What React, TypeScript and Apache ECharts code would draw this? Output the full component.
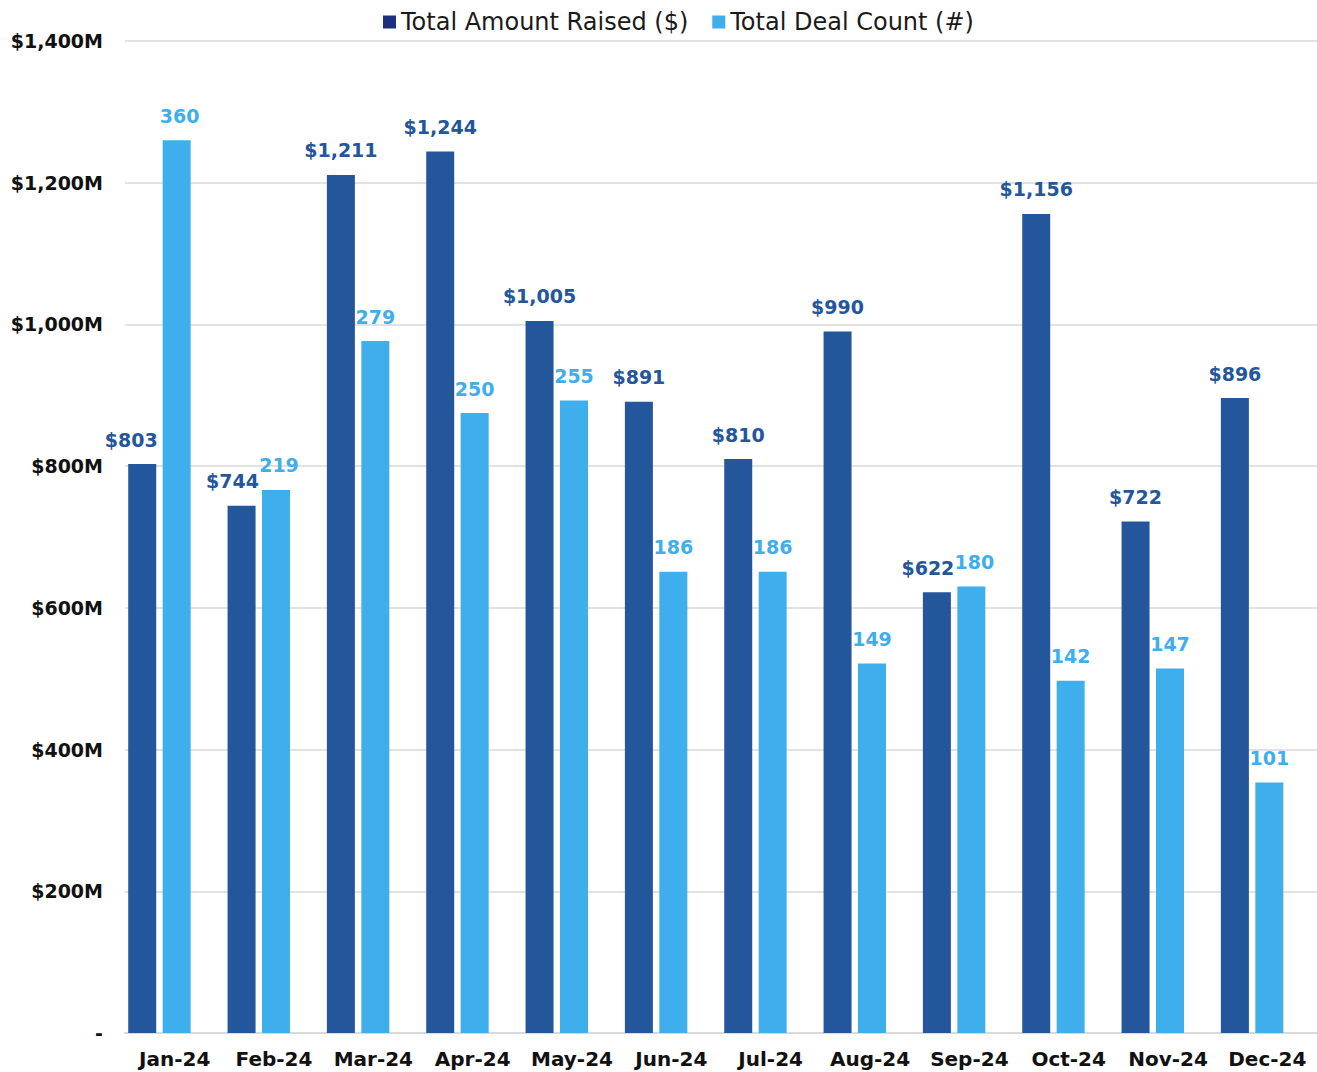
import React, { useEffect, useRef } from "react";
import * as echarts from "echarts";

const months = ["Jan-24", "Feb-24", "Mar-24", "Apr-24", "May-24", "Jun-24", "Jul-24", "Aug-24", "Sep-24", "Oct-24", "Nov-24", "Dec-24"];
const amountRaised = [803, 744, 1211, 1244, 1005, 891, 810, 990, 622, 1156, 722, 896];
const dealCount = [360, 219, 279, 250, 255, 186, 186, 149, 180, 142, 147, 101];
const amountLabelShift = [-11, -9, 0, 0, 0, 0, 0, 0, -9, 0, 0, 0];
const countLabelShift = [3, 3, 0, 0, 0, 0, 0, 0, 3, 0, 0, 0];

const DARK = "#24569B";
const LIGHT = "#3FAEEC";
const FONT = "DejaVu Sans";

const fmtThousands = (v: number) => v.toLocaleString("en-US");

export default function App() {
  const ref = useRef<HTMLDivElement>(null);
  useEffect(() => {
    if (!ref.current) return;
    const chart = echarts.init(ref.current, undefined, { renderer: "svg" });
    chart.setOption({
      animation: false,
      textStyle: { fontFamily: FONT },
      legend: {
        top: 5,
        left: 378,
        itemWidth: 13,
        itemHeight: 13,
        itemGap: 24,
        icon: "rect",
        textStyle: { fontSize: 24, color: "#1a1a1a", fontFamily: FONT },
        data: [
          { name: "Total Amount Raised ($)", itemStyle: { color: "#1B2F7E" } },
          { name: "Total Deal Count (#)", itemStyle: { color: LIGHT } },
        ],
      },
      grid: { left: 125, right: 0, top: 41, bottom: 39, containLabel: false },
      xAxis: {
        type: "category",
        data: months,
        axisLine: { lineStyle: { color: "#d9d9d9", width: 2 } },
        axisTick: { show: false },
        axisLabel: { interval: 0, fontSize: 20, fontWeight: "bold", color: "#111", margin: 16, fontFamily: FONT },
      },
      yAxis: [
        {
          type: "value",
          min: 0,
          max: 1400,
          interval: 200,
          axisLine: { show: false },
          axisTick: { show: false },
          splitLine: { lineStyle: { color: "#d9d9d9", width: 1.5 } },
          axisLabel: {
            fontSize: 19,
            fontWeight: "bold",
            color: "#111",
            margin: 22,
            fontFamily: FONT,
            formatter: (v: number) => (v === 0 ? "-" : "$" + fmtThousands(v) + "M"),
          },
        },
        {
          type: "value",
          min: 0,
          max: 400,
          interval: 50,
          show: false,
          splitLine: { show: false },
        },
      ],
      series: [
        {
          name: "Total Amount Raised ($)",
          type: "bar",
          yAxisIndex: 0,
          barWidth: 28,
          barGap: "23%",
          itemStyle: { color: DARK },
          data: amountRaised.map((v, i) => ({
            value: v,
            label: { offset: [amountLabelShift[i], 0] },
          })),
          label: {
            show: true,
            position: "top",
            distance: 15,
            color: DARK,
            fontSize: 19,
            fontWeight: "bold",
            fontFamily: FONT,
            formatter: (p: any) => "$" + fmtThousands(p.value),
          },
        },
        {
          name: "Total Deal Count (#)",
          type: "bar",
          yAxisIndex: 1,
          barWidth: 28,
          itemStyle: { color: LIGHT },
          data: dealCount.map((v, i) => ({
            value: v,
            label: { offset: [countLabelShift[i], 0] },
          })),
          label: {
            show: true,
            position: "top",
            distance: 15,
            color: LIGHT,
            fontSize: 19,
            fontWeight: "bold",
            fontFamily: FONT,
          },
        },
        {
          name: "spacer",
          type: "bar",
          yAxisIndex: 1,
          barWidth: 24,
          silent: true,
          itemStyle: { color: "transparent" },
          data: [],
        },
      ],
    });
    return () => chart.dispose();
  }, []);
  return <div ref={ref} style={{ width: 1317, height: 1072, position: "absolute", left: 0, top: 0 }} />;
}
